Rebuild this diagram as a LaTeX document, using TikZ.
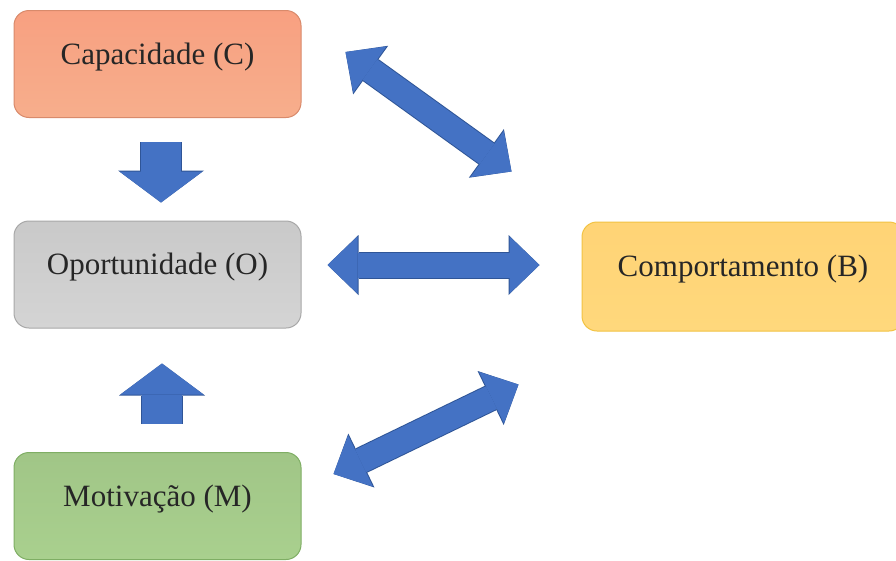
\documentclass[tikz,border=0pt]{standalone}
\usepackage{fontspec}
\setmainfont{Liberation Serif}
\usetikzlibrary{arrows.meta}
\definecolor{capfill}{HTML}{F7AE8C}
\definecolor{capedge}{HTML}{D98A6B}
\definecolor{oppfill}{HTML}{D4D4D4}
\definecolor{oppedge}{HTML}{A8A8A8}
\definecolor{motfill}{HTML}{A9D08E}
\definecolor{motedge}{HTML}{7FAE64}
\definecolor{compfill}{HTML}{FFD87C}
\definecolor{compedge}{HTML}{F2C343}
\definecolor{arrowblue}{HTML}{4472C4}
\definecolor{arrowedge}{HTML}{2F5597}
\begin{document}
\begin{tikzpicture}[x=1pt,y=-1pt,
    box/.style={rounded corners=15pt, line width=1pt, minimum width=287pt, minimum height=107pt,
        text height=22pt, text depth=22pt, font=\fontsize{31}{36}\selectfont, text=black!85},
    hblock/.style={line width=25pt, draw=arrowblue,
        {Triangle[length=30pt,width=57pt,line width=0pt 0 0]}-{Triangle[length=30pt,width=57pt,line width=0pt 0 0]},
        preaction={draw=arrowedge, line width=27pt,
        {Triangle[length=31pt,width=60pt,line width=0pt 0 0]}-{Triangle[length=31pt,width=60pt,line width=0pt 0 0]}}},
    vblock/.style={line width=40pt, draw=arrowblue, -{Triangle[length=31pt,width=83pt,line width=0pt 0 0]},
        preaction={draw=arrowedge, line width=42pt, -{Triangle[length=32pt,width=86pt,line width=0pt 0 0]}}}]
\clip (0,0) rectangle (896,560);
\useasboundingbox (0,0) rectangle (896,560);
\fill[white] (0,0) rectangle (896,560);
\node[box, draw=capedge, top color=capfill!92!red, bottom color=capfill] (cap) at (157.5,64) {Capacidade (C)};
\node[box, draw=oppedge, top color=oppfill!95!black, bottom color=oppfill] (opp) at (157.5,274.5) {Oportunidade (O)};
\node[box, draw=motedge, top color=motfill!95!black, bottom color=motfill] (mot) at (157.5,506) {Motivação (M)};
\node[box, draw=compedge, top color=compfill!95!orange, bottom color=compfill, minimum width=322pt, minimum height=109pt] (comp) at (743,276.5) {Comportamento (B)};
\draw[vblock] ([shift={(3.5pt,-24pt)}]cap.south) -- ([shift={(3.5pt,18pt)}]opp.north);
\draw[vblock] ([shift={(4.5pt,28pt)}]mot.north) -- ([shift={(4.5pt,-35pt)}]opp.south);
\draw[hblock] ([shift={(26pt,9.5pt)}]opp.east) -- ([shift={(-42pt,11.5pt)}]comp.west);
\draw[hblock] ([shift={(44pt,12pt)}]cap.east) -- ([shift={(-70pt,50pt)}]comp.north west);
\draw[hblock] ([shift={(32pt,32pt)}]mot.east) -- ([shift={(-63pt,-53pt)}]comp.south west);
\end{tikzpicture}
\end{document}
